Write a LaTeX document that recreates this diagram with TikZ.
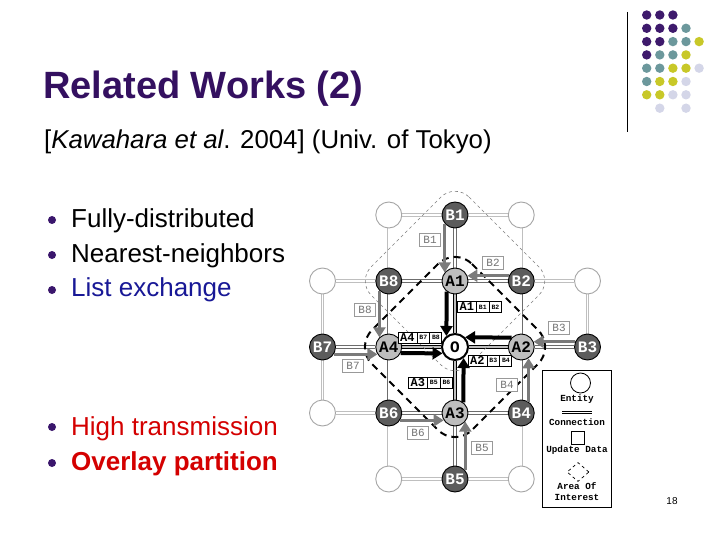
\documentclass[tikz,border=0pt]{standalone}
\usepackage{fontspec}
\setmainfont{Liberation Sans}
\newfontfamily\monob{Liberation Mono}
\usepackage{tikz}
\usetikzlibrary{arrows.meta,backgrounds,positioning,shapes.geometric,shapes.multipart}

\definecolor{titlepurple}{RGB}{52,16,96}
\definecolor{bulpurple}{RGB}{58,22,108}
\definecolor{listblue}{RGB}{24,24,150}
\definecolor{hotred}{RGB}{212,0,0}
\definecolor{dP}{RGB}{62,26,108}
\definecolor{dT}{RGB}{108,152,156}
\definecolor{dY}{RGB}{200,200,40}
\definecolor{dL}{RGB}{212,214,232}
\definecolor{bgray}{RGB}{92,92,92}
\definecolor{agray}{RGB}{190,190,190}
\definecolor{arrgray}{RGB}{122,122,122}

\tikzset{
  ent/.style={circle, minimum size=26pt, inner sep=0pt, line width=0.9pt,
    font={\monob\bfseries\fontsize{16}{16}\selectfont}},
  bent/.style={ent, draw=black, fill=bgray, text=white},
  aent/.style={ent, draw=black, fill=agray},
  oent/.style={ent, draw=black, fill=white, line width=2pt},
  eent/.style={ent, draw=gray!70, fill=white},
  lgrid/.style={draw=gray!50, double=white, line width=0.9pt, double distance=1.6pt},
  dgrid/.style={draw=gray!85!black, double=white, line width=0.9pt, double distance=1.6pt},
  ogrid/.style={draw=black, double=gray!50, line width=1.4pt, double distance=1.8pt},
  barrow/.style={draw=arrgray, line width=3.5pt, -{Triangle[length=10pt,width=12pt]}},
  karrow/.style={draw=black, line width=4pt, -{Triangle[length=10pt,width=12pt]}},
  blabel/.style={draw=gray!80, fill=white, text=gray!90!black, line width=0.8pt,
    minimum width=21pt, minimum height=13pt, inner sep=1pt,
    font={\monob\fontsize{11}{11}\selectfont}},
  alabel/.style={rectangle split, rectangle split horizontal, rectangle split parts=3,
    draw=black, fill=white, line width=0.8pt, inner xsep=2pt, inner ysep=1.5pt,
    font={\monob\bfseries\fontsize{12}{12}\selectfont}},
  legtext/.style={font={\monob\bfseries\fontsize{9.3}{9.3}\selectfont}},
  aoi/.style={dashed, line width=2pt, rounded corners=24pt, dash pattern=on 7pt off 5pt},
  thinaoi/.style={draw=gray, dashed, line width=0.6pt, rounded corners=20pt},
  bodytext/.style={anchor=base west, inner sep=0pt, font=\fontsize{26}{30}\selectfont},
  bul/.style={circle, fill=bulpurple, minimum size=8pt, inner sep=0pt},
}

\newcommand{\smallcell}[1]{\fontsize{6.5}{6.5}\selectfont #1}

\begin{document}
\begin{tikzpicture}[x=1pt, y=-1pt]
  \useasboundingbox (0,0) rectangle (720,540);

  % corner decoration
  \draw[line width=0.8pt] (627,12) coordinate (deco1) -- (627,132) coordinate (deco2);
  \foreach \clist [count=\ri] in {{dP,dP,dP},{dP,dP,dP,dT},{dP,dP,dT,dT,dY},{dP,dT,dT,dY},
                                  {dT,dT,dY,dY,dL},{dT,dY,dY,dL},{dY,dY,dL,dL}}{
    \foreach \c [count=\ci] in \clist{
      \fill[\c] ({633.6+13.1*\ci}, {15+13.3*(\ri-1)}) circle (4.7);
    }
  }
  \fill[dL] ({633.6+13.1*2}, 108.2) circle (4.7);
  \fill[dL] ({633.6+13.1*4}, 108.2) circle (4.7);

  % title and text
  \node[anchor=base west, inner sep=0pt, text=titlepurple, font=\fontsize{38}{44}\selectfont\bfseries]
    (title) at (43,99) {Related Works (2)};
  \node[bodytext, font=\fontsize{25.8}{30}\selectfont] (cite) at (44,149)
    {{[}\textit{Kawahara et al}. 2004] (Univ. of Tokyo)};
  \node[bodytext] (item1) at (71,228) {Fully-distributed};
  \node[bodytext] (item2) at (71,262) {Nearest-neighbors};
  \node[bodytext, text=listblue] (item3) at (71,296) {List exchange};
  \node[bodytext, text=hotred] (item4) at (71,435) {High transmission};
  \node[bodytext, text=hotred, font=\fontsize{26}{30}\selectfont\bfseries] (item5) at (71,470) {Overlay partition};
  \foreach \y [count=\n] in {220,255,290,427,463}{
    \node[bul] (bul\n) at (52,\y) {};
  }
  \node[font=\fontsize{10}{10}\selectfont] (pgnum) at (672,501) {18};

  % grid of entities
  \foreach \c/\r/\kind/\txt in {2/1/eent/, 3/1/bent/B1, 4/1/eent/,
      1/2/eent/, 2/2/bent/B8, 3/2/aent/A1, 4/2/bent/B2, 5/2/eent/,
      1/3/bent/B7, 2/3/aent/A4, 3/3/oent/O, 4/3/aent/A2, 5/3/bent/B3,
      1/4/eent/, 2/4/bent/B6, 3/4/aent/A3, 4/4/bent/B4,
      2/5/eent/, 3/5/bent/B5, 4/5/eent/}{
    \node[\kind] (n\c\r) at ({322.5+66.25*(\c-1)}, {215+66*(\r-1)}) {\txt};
  }

  \begin{scope}[on background layer]
    \fill[white] (0,0) rectangle (720,540);
    % connections
    \foreach \a/\b in {n21/n31, n31/n41, n12/n22, n42/n52, n14/n24, n25/n35, n35/n45,
                       n12/n13, n13/n14, n21/n22, n24/n25, n41/n42, n44/n45, n52/n53}{
      \draw[lgrid] (\a) -- (\b);
    }
    \foreach \a/\b in {n22/n32, n32/n42, n13/n23, n43/n53, n24/n34, n34/n44,
                       n22/n23, n23/n24, n31/n32, n34/n35, n42/n43, n43/n44}{
      \draw[dgrid] (\a) -- (\b);
    }
    \foreach \a/\b in {n23/n33, n33/n43, n32/n33, n33/n34}{
      \draw[ogrid] (\a) -- (\b);
    }
    % areas of interest
    \draw[thinaoi] (455,183) -- (553,281) -- (455,379) -- (357,281) -- cycle;
    \draw[aoi] (455,247) -- (555,347) -- (455,447) -- (355,347) -- cycle;
  \end{scope}

  % update data B -> A
  \draw[barrow] (n31.220) -- (n32.140);
  \draw[barrow] (n22.226) -- (n23.134);
  \draw[barrow] (n42.157) -- (n32.23);
  \draw[barrow] (n53.157) -- (n43.23);
  \draw[barrow] (n13.-33) -- (n23.213);
  \draw[barrow] (n24.-33) -- (n34.213);
  \draw[barrow] (n35.40) -- (n34.-40);
  \draw[barrow] (n44.57) -- (n43.-57);
  % update lists A -> O
  \draw[karrow] (n32.232) -- (n33.128);
  \draw[karrow] (n43.136) -- (n33.44);
  \draw[karrow] (n23.-27) -- (n33.207);
  \draw[karrow] (n34.52) -- (n33.-52);

  % data labels
  \node[blabel] (lb1) at (430,240) {B1};
  \node[blabel] (lb2) at (493,263) {B2};
  \node[blabel] (lb3) at (559,328) {B3};
  \node[blabel] (lb4) at (507,385) {B4};
  \node[blabel] (lb5) at (482,448) {B5};
  \node[blabel] (lb6) at (418,433) {B6};
  \node[blabel] (lb7) at (353,366) {B7};
  \node[blabel] (lb8) at (365,310) {B8};
  \node[alabel] (la1) at (479.5,307) {A1\nodepart{two}\smallcell{B1}\nodepart{three}\smallcell{B2}};
  \node[alabel] (la4) at (420,337.5) {A4\nodepart{two}\smallcell{B7}\nodepart{three}\smallcell{B8}};
  \node[alabel] (la2) at (490,360.5) {A2\nodepart{two}\smallcell{B3}\nodepart{three}\smallcell{B4}};
  \node[alabel] (la3) at (430.5,382.5) {A3\nodepart{two}\smallcell{B5}\nodepart{three}\smallcell{B6}};

  % legend
  \node[draw, fill=white, line width=1pt, minimum width=69pt, minimum height=137pt, inner sep=0pt]
    (legend) at (577,438.5) {};
  \node[circle, draw, line width=0.8pt, minimum size=20pt, inner sep=0pt] (lgent) at (580.5,383) {};
  \node[legtext] (lgenttxt) at (577,399) {Entity};
  \coordinate (lgc1) at (562,412.5);
  \coordinate (lgc2) at (592,412.5);
  \draw[draw=black, double=white, line width=0.7pt, double distance=1.6pt] (lgc1) -- (lgc2);
  \node[legtext] (lgcontxt) at (577,422) {Connection};
  \node[draw, line width=0.8pt, minimum size=13pt, inner sep=0pt] (lgupd) at (578,438) {};
  \node[legtext] (lgupdtxt) at (577,450) {Update Data};
  \node[diamond, draw, dashed, line width=0.7pt, minimum width=22pt, minimum height=19pt, inner sep=0pt]
    (lgaoi) at (578,472) {};
  \node[legtext] (lgaoitxt1) at (577,486) {Area Of};
  \node[legtext] (lgaoitxt2) at (577,497) {Interest};
\end{tikzpicture}
\end{document}
